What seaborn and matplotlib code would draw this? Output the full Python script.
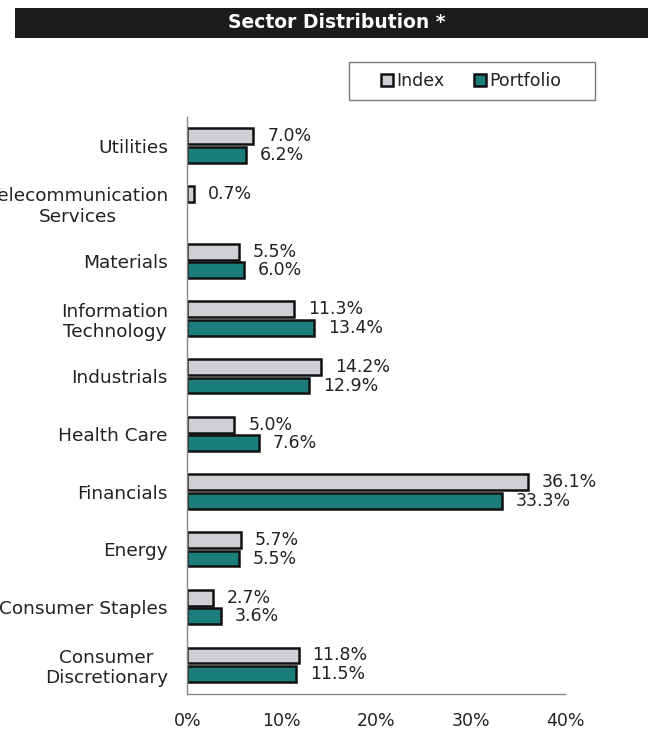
import matplotlib
matplotlib.use('Agg')
import matplotlib.pyplot as plt
import seaborn as sns
import pandas as pd
import numpy as np
from matplotlib.patches import Rectangle

# sector data (percent)
sectors = ['Utilities', 'Telecommunication\nServices', 'Materials', 'Information\nTechnology',
           'Industrials', 'Health Care', 'Financials', 'Energy', 'Consumer Staples',
           'Consumer\nDiscretionary']
index_pct = [7.0, 0.7, 5.5, 11.3, 14.2, 5.0, 36.1, 5.7, 2.7, 11.8]
portfolio_pct = [6.2, np.nan, 6.0, 13.4, 12.9, 7.6, 33.3, 5.5, 3.6, 11.5]
series = ['Index', 'Portfolio']
xticks = [0, 10, 20, 30, 40]

df = pd.DataFrame({'sector': sectors * 2,
                   'pct': index_pct + portfolio_pct,
                   'series': ['Index'] * len(sectors) + ['Portfolio'] * len(sectors)})

sns.set_style('white')
plt.rcParams['font.family'] = ['DejaVu Sans']

fig = plt.figure(figsize=(6.48, 7.30), dpi=100)
ax = fig.add_axes([0.289, 0.050, 0.583, 0.790])

sns.barplot(data=df, y='sector', x='pct', hue='series', order=sectors, hue_order=series,
            palette={'Index': '#d0d0d4', 'Portfolio': '#1b7e7b'}, saturation=1,
            width=0.64, gap=0.14, edgecolor='#111111', linewidth=1.8, ax=ax)

# value labels
for cont in ax.containers:
    labels = ['' if np.isnan(v) else f'{v:.1f}%' for v in cont.datavalues]
    ax.bar_label(cont, labels=labels, padding=10, fontsize=12.5, color='#222222')

ax.set_xlim(0, 40)
ax.set_ylim(len(sectors) - 0.5, -0.5)
ax.set_xticks(xticks)
ax.set_xticklabels([f'{t}%' for t in xticks], fontsize=12.5)
ax.set_xlabel('')
ax.set_ylabel('')

# y ticks at category boundaries, labels centered
ax.set_yticks(np.arange(len(sectors)))
ax.set_yticklabels(sectors, fontsize=13.3, multialignment='center', color='#222222')
ax.set_yticks(np.arange(len(sectors) + 1) - 0.5, minor=True)
ax.tick_params(axis='y', which='major', length=0, pad=14)
ax.tick_params(axis='y', which='minor', length=5, direction='out', color='#888888')
ax.tick_params(axis='x', length=6, direction='inout', color='#888888', pad=10,
               labelcolor='#222222')

for s in ['top', 'right']:
    ax.spines[s].set_visible(False)
for s in ['left', 'bottom']:
    ax.spines[s].set_color('#888888')
    ax.spines[s].set_linewidth(1)

# legend: box drawn separately, legend itself frameless inside it
fig.patches.append(Rectangle((349 / 648, 1 - 100 / 730), 246 / 648, 38 / 730,
                             transform=fig.transFigure, facecolor='white',
                             edgecolor='#777777', linewidth=1))
handles, labs = ax.get_legend_handles_labels()
ax.get_legend().remove()
leg = fig.legend(handles, labs, loc='center', bbox_to_anchor=(0.727, 0.889), ncol=2,
                 frameon=False, fontsize=12.5, handlelength=0.7, handleheight=0.7,
                 handletextpad=0.2, columnspacing=1.7, borderpad=0, borderaxespad=0)
for t in leg.get_texts():
    t.set_color('#222222')

# title bar
fig.patches.append(Rectangle((15 / 648, 1 - 38 / 730), 1, 30 / 730, transform=fig.transFigure,
                             facecolor='#1c1c1c', edgecolor='none'))
fig.text(0.52, 1 - 23 / 730, 'Sector Distribution *', color='white', fontsize=13.5,
         fontweight='bold', ha='center', va='center')

fig.savefig('out.png', dpi=100)
